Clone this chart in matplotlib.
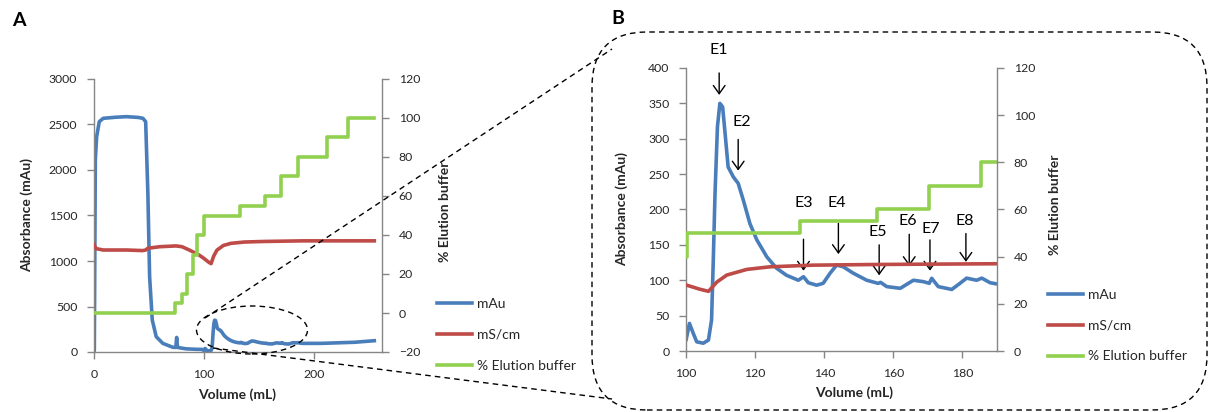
import matplotlib
matplotlib.use("Agg")
import matplotlib.pyplot as plt
from matplotlib.patches import Ellipse, FancyBboxPatch
from matplotlib.lines import Line2D
from matplotlib.transforms import IdentityTransform

plt.rcParams["font.family"] = ["Lato", "DejaVu Sans"]

# ---- chromatography run: absorbance (mAu) ----
vol_mau = [0, 0.3, 1.2, 2.4, 4.8, 8.4, 20, 29.5, 40, 44.5, 47, 49, 50.6, 53,
           56.6, 62.6, 71.6, 74.4, 75.2, 76, 83.7, 92, 98.7, 100, 101, 102.1,
           103.1, 105, 106.5, 107.4, 107.9, 108.4, 109.1, 109.8, 110.6, 111.3,
           112.2, 113.7, 115.1, 116.6, 118.5, 120.5, 123.4, 126.2, 129.1, 132.5,
           134, 135.4, 137.8, 139.7, 141.7, 143.6, 145.5, 148.4, 152.3, 155.6,
           156.3, 158.1, 162, 165.8, 168.7, 170.4, 171.1, 173, 176.9, 179.3,
           181.2, 184.1, 185.6, 188, 190, 207, 237, 255]
mau = [0, 22, 2110, 2366, 2531, 2568, 2580, 2586, 2578, 2568, 2531, 1744, 827,
       352, 168, 95, 52, 50, 160, 50, 35, 30, 28, 15, 39, 25, 13, 11, 15.5, 44,
       129, 223, 317, 350, 345, 308, 260, 246, 237, 213, 180, 157, 133, 117,
       107, 100, 105, 96.5, 93, 95.7, 110, 121.5, 119, 110, 100, 95.6, 97, 91,
       88.6, 100, 98, 95.7, 102.8, 91, 87, 95.7, 103, 100, 103, 96.5, 94.7,
       95, 107, 124]

# ---- conductivity (mS/cm) ----
vol_cond = [0, 2, 8.4, 30, 44.5, 47, 49, 60, 74.6, 80, 86.7, 95.7, 100, 104,
            106.5, 108.9, 111.8, 117.6, 124.3, 136.8, 156, 190, 255]
cond = [35, 33, 32.3, 32.3, 32, 32.3, 33.2, 34, 34.4, 34, 32.3, 29.7, 28.0,
        26.2, 25.3, 29.2, 32.2, 34.6, 35.7, 36.4, 36.7, 37.0, 37.0]

# ---- step gradient (% elution buffer) ----
vol_step = [0, 74, 80, 85, 89.7, 94, 100.3, 133, 155.4, 170.4, 185.3, 212, 231, 255]
pct_step = [0, 5, 10, 20, 30, 40, 50, 55, 60, 70, 80, 90, 100, 100]

# ---- tick labels ----
a_xticks = [0, 100, 200]
a_yticks = [0, 500, 1000, 1500, 2000, 2500, 3000]
a_y2ticks = [-20, 0, 20, 40, 60, 80, 100, 120]
b_xticks = [100, 120, 140, 160, 180]
b_yticks = [0, 50, 100, 150, 200, 250, 300, 350, 400]
b_y2ticks = [0, 20, 40, 60, 80, 100, 120]

# ---- elution fractions marked on panel B ----
frac_names = ["E1", "E2", "E3", "E4", "E5", "E6", "E7", "E8"]
frac_vol = [109.6, 115.1, 134.0, 144.1, 155.9, 164.6, 170.6, 181.0]
arrow_tail = [393, 299, 158, 180.5, 150, 165, 157, 166]
arrow_tip = [362, 255, 113.5, 137, 107, 120, 113.5, 126]
frac_text_x = [109.6, 116.1, 134.1, 143.6, 155.6, 164.3, 170.8, 180.7]
frac_text_y = [425, 324, 209.6, 209.6, 168.6, 184, 172, 184]

legend_labels = ["mAu", "mS/cm", "% Elution buffer"]

W, H = 1209, 412
fig = plt.figure(figsize=(W / 100, H / 100), dpi=100)
PIX = IdentityTransform()

BLUE = "#4A7EBB"
RED = "#BE4B48"
GREEN = "#92D050"
AXIS = "#868686"
TXT = "#262626"
LW = 2.6


def rect(left, top, right, bottom):
    return [left / W, 1 - bottom / H, (right - left) / W, (bottom - top) / H]


def panel(pos, xlim, ylim, y2lim, xt, yt, y2t, xlabel_xy, ylabel_xy, y2label_xy, leg_xy):
    ax = fig.add_axes(rect(*pos))
    ax2 = ax.twinx()
    (b,) = ax.plot(vol_mau, mau, color=BLUE, lw=LW, solid_joinstyle="round")
    (r,) = ax2.plot(vol_cond, cond, color=RED, lw=LW, solid_joinstyle="round")
    (g,) = ax2.plot(vol_step, pct_step, color=GREEN, lw=LW, drawstyle="steps-post")
    ax.set_xlim(*xlim)
    ax.set_ylim(*ylim)
    ax2.set_ylim(*y2lim)
    ax.set_xticks(xt)
    ax.set_yticks(yt)
    ax2.set_yticks(y2t)
    for s in ("top", "right"):
        ax.spines[s].set_visible(False)
    for s in ("top", "left", "bottom"):
        ax2.spines[s].set_visible(False)
    for sp in (ax.spines["left"], ax.spines["bottom"], ax2.spines["right"]):
        sp.set_color(AXIS)
        sp.set_linewidth(1.0)
    for a in (ax, ax2):
        a.tick_params(direction="out", length=5, width=1, color=AXIS,
                      labelsize=8.8, labelcolor=TXT, pad=7)
    ax.set_xlabel("Volume (mL)", fontsize=10, fontweight="bold", color=TXT, va="center")
    ax.xaxis.set_label_coords(xlabel_xy[0], H - xlabel_xy[1], transform=PIX)
    ax.set_ylabel("Absorbance (mAu)", fontsize=10, fontweight="bold", color=TXT, va="center")
    ax.yaxis.set_label_coords(ylabel_xy[0], H - ylabel_xy[1], transform=PIX)
    ax2.set_ylabel("% Elution buffer", fontsize=10, fontweight="bold", color=TXT,
                   va="center", rotation=90)
    ax2.yaxis.set_label_coords(y2label_xy[0], H - y2label_xy[1], transform=PIX)
    ax2.legend([b, r, g], legend_labels, loc="upper left",
               bbox_to_anchor=(leg_xy[0], H - leg_xy[1]), bbox_transform=PIX,
               frameon=False, fontsize=10, handlelength=2.5, handletextpad=0.4,
               labelspacing=1.35, borderpad=0, borderaxespad=0, labelcolor=TXT)
    return ax, ax2


axA, axA2 = panel((94, 79, 382, 352), (0, 262), (0, 3000), (-20, 120),
                  a_xticks, a_yticks, a_y2ticks,
                  (237, 395), (27, 215), (445, 212), (437, 298))
axB, axB2 = panel((686, 68, 997, 351), (100, 190), (0, 400), (0, 120),
                  b_xticks, b_yticks, b_y2ticks,
                  (854, 393), (622, 209), (1055, 205), (1048, 289))

# fraction arrows and labels
for name, x, t0, t1, tx, ty in zip(frac_names, frac_vol, arrow_tail, arrow_tip,
                                   frac_text_x, frac_text_y):
    axB.annotate("", xy=(x, t1), xytext=(x, t0), annotation_clip=False,
                 arrowprops=dict(arrowstyle="->,head_length=0.42,head_width=0.3",
                                 color="black", lw=1.0, shrinkA=0, shrinkB=0,
                                 mutation_scale=14))
    axB.text(tx, ty, name, fontsize=11.5, ha="center", va="center",
             color="black", clip_on=False)

# panel letters
fig.text(19 / W, 1 - 20.5 / H, "A", fontsize=14, fontweight="bold", ha="center", va="center")
fig.text(617.5 / W, 1 - 19 / H, "B", fontsize=14, fontweight="bold", ha="center", va="center")

# zoom callout: ellipse on A, dashed rounded frame around B and connectors
dash = (0, (4, 3))
fig.patches.append(Ellipse((252, H - 330), 111, 48, transform=PIX, fill=False,
                           edgecolor="black", lw=1.0, linestyle=dash))
frame_l, frame_t, frame_r, frame_b = 592, 32, 1207, 410
rad = 55
fig.patches.append(FancyBboxPatch((frame_l, H - frame_b), frame_r - frame_l,
                                  frame_b - frame_t, boxstyle=f"round,pad=0,rounding_size={rad}",
                                  transform=PIX, fill=False, edgecolor="black",
                                  lw=1.0, linestyle=dash))
fig.lines.append(Line2D([205, 612], [H - 318, H - 49], transform=PIX, color="black",
                        lw=1.0, linestyle=dash))
fig.lines.append(Line2D([213, 612], [H - 348, H - 399], transform=PIX, color="black",
                        lw=1.0, linestyle=dash))

fig.savefig("out.png", dpi=100)
